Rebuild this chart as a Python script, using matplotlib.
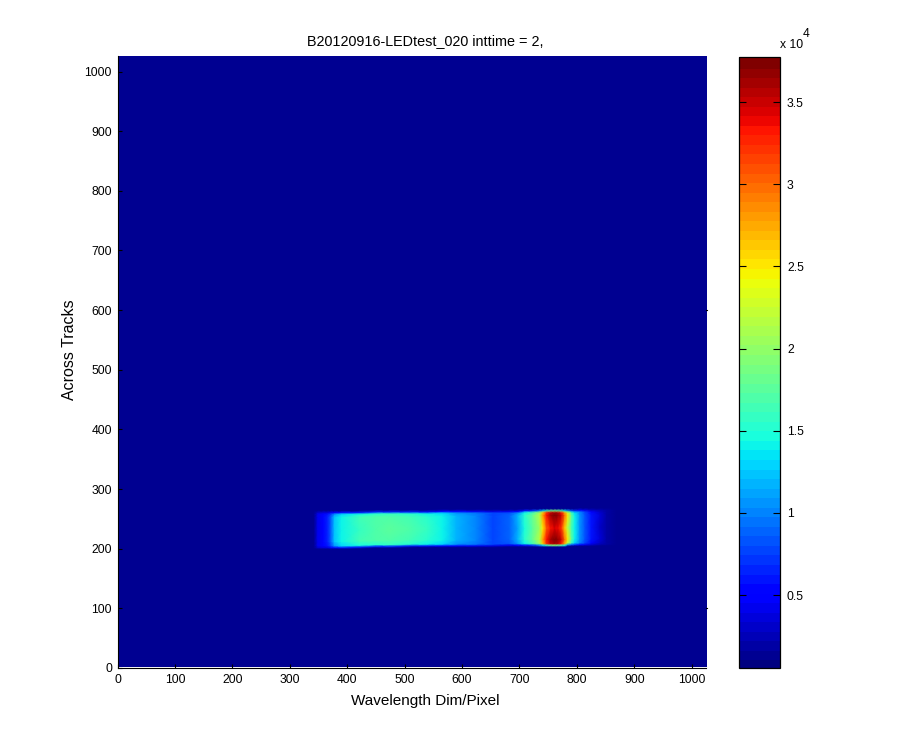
import numpy as np
import matplotlib
matplotlib.use('Agg')
import matplotlib.pyplot as plt

plt.rcParams['font.family'] = ['Liberation Sans', 'DejaVu Sans']

background = 1400

# columns along the wavelength dim
wave = [342, 349, 358, 366, 372, 378, 390, 421, 450, 474, 509, 540, 566, 590, 625, 654, 683, 697, 709,
        723, 735, 741, 747, 754, 761, 767, 773, 779, 784, 791, 796, 805, 814, 825, 840, 852, 868]
band_low = [202, 202, 202, 202, 202, 202, 202, 203, 204, 204, 205, 205, 205, 205, 205, 205, 206, 206, 206,
            206, 206, 206, 206, 206, 206, 206, 206, 206, 207, 207, 207, 207, 207, 207, 208, 208, 208]
band_high = [261, 261, 261, 261, 261, 261, 261, 261, 262, 262, 262, 262, 263, 263, 263, 263, 263, 263, 264,
             264, 264, 264, 264, 264, 264, 264, 264, 264, 264, 264, 264, 265, 265, 265, 265, 265, 265]

# counts at the edge of the band, just inside it, on the two lobes, and at the waist
edge_vals = [1400, 3000, 3500, 4000, 4800, 5500, 6000, 6500, 6800, 6900, 6700, 6300, 5700, 5000, 4500, 4000, 4300,
             5000, 6200, 7500, 10000, 13000, 16000, 18500, 19500, 18500, 17000, 14000, 11500, 8500, 7000, 5500, 4400,
             3400, 2500, 1900, 1400]
near_vals = [1400, 4300, 5000, 6000, 8000, 11000, 13000, 14800, 15500, 15800, 15300, 14300, 13000, 11000, 9300,
             7600, 8300, 10800, 14000, 16500, 20500, 26500, 32000, 35000, 36000, 35500, 33500, 27500, 22500, 16000,
             13300, 10000, 7800, 5300, 3000, 1900, 1400]
lobe_vals = [1400, 4500, 5300, 6800, 9000, 12500, 14500, 16300, 17000, 17300, 16800, 15600, 14200, 12000, 10000,
              8000, 9000, 12000, 15500, 18000, 22000, 28000, 33500, 36500, 37500, 37000, 35000, 30000, 25000, 17500,
             14500, 11000, 8500, 6000, 3500, 2000, 1400]
waist_vals = [1400, 4400, 5200, 6800, 9000, 12500, 14200, 16200, 17200, 17700, 17100, 15900, 14400, 12000, 9900,
              7900, 8900, 11500, 15000, 17500, 20500, 25000, 30500, 33500, 34500, 34000, 32000, 26500, 22000, 16500,
              14000, 10800, 8300, 5800, 3400, 2000, 1400]

bar_ticks = [5000, 10000, 15000, 20000, 25000, 30000, 35000]
bar_labels = ['0.5', '1', '1.5', '2', '2.5', '3', '3.5']

vmin = 560
vmax = 37740

wave = np.array(wave, dtype=float)
low = np.array(band_low, dtype=float)
high = np.array(band_high, dtype=float)
mid = (low + high) / 2
bg = np.full(len(wave), background, dtype=float)

# curvilinear mesh that follows the tilt of the band
Y = np.array([low - 2.5, low, low + 3, low + 10, mid, high - 8, high - 3, high, high + 2.5])
X = np.tile(wave, (Y.shape[0], 1))
C = np.array([bg, edge_vals, near_vals, lobe_vals, waist_vals, lobe_vals, near_vals, edge_vals, bg])

fig = plt.figure(figsize=(9, 7.5), dpi=100)
ax = fig.add_axes([117.5 / 900, (750 - 668) / 750, 588.5 / 900, 612 / 750])
cmap = plt.get_cmap('jet', 64)

ax.imshow([[background]], cmap=cmap, vmin=vmin, vmax=vmax, extent=[2.5, 1025, 2.5, 1026],
          origin='lower', aspect='auto', interpolation='nearest')
mesh = ax.pcolormesh(X, Y, C, cmap=cmap, vmin=vmin, vmax=vmax, shading='gouraud')

ax.set_xlim(0, 1025)
ax.set_ylim(0, 1026)
ax.set_xticks(np.arange(0, 1001, 100))
ax.set_yticks(np.arange(0, 1001, 100))
ax.tick_params(direction='in', length=3, width=0.8, labelsize=8.7, pad=4, colors='black')
ax.spines['top'].set_visible(False)
ax.spines['right'].set_visible(False)

# the two stubs that poke out on the right side
for y in [100, 600]:
    ax.plot([1025, 1027], [y, y], color='black', lw=0.8, clip_on=False)

fig.text(425 / 900, 1 - 41 / 750, 'B20120916-LEDtest_020 inttime = 2,', fontsize=10.4, ha='center', va='center')
fig.text(425 / 900, 1 - 701 / 750, 'Wavelength Dim/Pixel', fontsize=11, ha='center', va='center')
fig.text(69 / 900, 1 - 350 / 750, 'Across Tracks', fontsize=11.5, ha='center', va='center', rotation=90)

cax = fig.add_axes([739 / 900, (750 - 668) / 750, 41 / 900, 611 / 750])
cb = fig.colorbar(mesh, cax=cax)
cb.set_ticks(bar_ticks)
cb.set_ticklabels(bar_labels)
cb.solids.set_edgecolor('face')
cb.outline.set_linewidth(0.9)
cax.tick_params(which='both', direction='in', length=4.7, width=0.8, labelsize=8.7, left=True, right=True, pad=5)
cax.minorticks_off()
fig.text(780 / 900, 1 - 48 / 750, 'x 10', fontsize=8.7, ha='left', va='baseline')
fig.text(803 / 900, 1 - 37 / 750, '4', fontsize=8.7, ha='left', va='baseline')

fig.savefig('out.png', dpi=100)
